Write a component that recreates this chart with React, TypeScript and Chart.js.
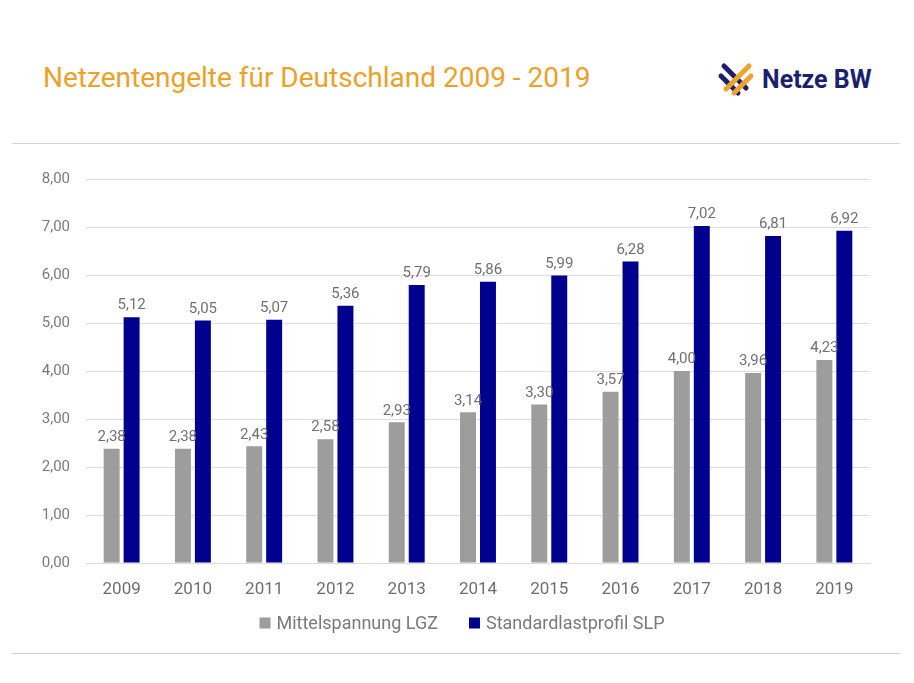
import { useEffect, useRef } from 'react'
import { Chart, registerables } from 'chart.js'
import type { Plugin } from 'chart.js'

Chart.register(...registerables)

const years = ['2009', '2010', '2011', '2012', '2013', '2014', '2015', '2016', '2017', '2018', '2019']
const mittelspannungLGZ = [2.38, 2.38, 2.43, 2.58, 2.93, 3.14, 3.30, 3.57, 4.00, 3.96, 4.23]
const standardlastprofilSLP = [5.12, 5.05, 5.07, 5.36, 5.79, 5.86, 5.99, 6.28, 7.02, 6.81, 6.92]

const GREY = '#9d9d9d'
const NAVY = '#00008f'
const FONT = 'Roboto, sans-serif'

const fmt = (v: number) => v.toFixed(2).replace('.', ',')

// value labels above each bar
const barLabels: Plugin<'bar'> = {
  id: 'barLabels',
  afterDatasetsDraw(chart) {
    const { ctx } = chart
    ctx.save()
    ctx.font = `15px ${FONT}`
    ctx.fillStyle = '#707070'
    ctx.textAlign = 'center'
    ctx.textBaseline = 'bottom'
    chart.data.datasets.forEach((ds, i) => {
      const meta = chart.getDatasetMeta(i)
      meta.data.forEach((bar, j) => {
        ctx.fillText(fmt(ds.data[j] as number), bar.x, bar.y - 4)
      })
    })
    ctx.restore()
  },
}

// bottom legend with wider item spacing than the built-in one allows
const wideLegend: Plugin<'bar'> = {
  id: 'wideLegend',
  afterDraw(chart) {
    const { ctx } = chart
    const box = 11, gap = 6, itemGap = 31
    ctx.save()
    ctx.font = `18px ${FONT}`
    ctx.textBaseline = 'middle'
    const items = chart.data.datasets.map((ds) => ({
      text: String(ds.label),
      color: String(ds.backgroundColor),
      w: box + gap + ctx.measureText(String(ds.label)).width,
    }))
    const total = items.reduce((s, it) => s + it.w, 0) + itemGap * (items.length - 1)
    let x = chart.width / 2 + 5 - total / 2
    const y = chart.chartArea.bottom + 60
    items.forEach((it) => {
      ctx.fillStyle = it.color
      ctx.fillRect(x, y - box / 2, box, box)
      ctx.fillStyle = '#7a7a7a'
      ctx.fillText(it.text, x + box + gap, y + 1)
      x += it.w + itemGap
    })
    ctx.restore()
  },
}

function Logo() {
  return (
    <div style={{ position: 'absolute', left: 716, top: 59, height: 40, display: 'flex', alignItems: 'center' }}>
      <svg width="40" height="40" viewBox="0 0 40 40">
        <g strokeWidth="5" strokeLinecap="round">
          <line x1="8" y1="7" x2="30" y2="29" stroke="#1c1f6e" />
          <line x1="5" y1="17" x2="22" y2="34" stroke="#1c1f6e" />
          <line x1="33" y1="7" x2="10" y2="30" stroke="#f0a32c" />
          <line x1="35" y1="17" x2="18" y2="34" stroke="#f0a32c" />
        </g>
      </svg>
      <span style={{ marginLeft: 6, fontFamily: FONT, fontWeight: 700, fontSize: 25, color: '#1c1f6e' }}>
        Netze BW
      </span>
    </div>
  )
}

export default function App() {
  const canvasRef = useRef<HTMLCanvasElement>(null)
  const chartRef = useRef<Chart | null>(null)

  useEffect(() => {
    if (!canvasRef.current) return
    chartRef.current?.destroy()

    chartRef.current = new Chart(canvasRef.current, {
      type: 'bar',
      data: {
        labels: years,
        datasets: [
          { label: 'Mittelspannung LGZ', data: mittelspannungLGZ, backgroundColor: GREY },
          { label: 'Standardlastprofil SLP', data: standardlastprofilSLP, backgroundColor: NAVY },
        ],
      },
      plugins: [barLabels, wideLegend],
      options: {
        animation: false,
        responsive: true,
        maintainAspectRatio: false,
        datasets: { bar: { categoryPercentage: 0.56, barPercentage: 0.8 } },
        layout: { padding: { top: 29, right: 44, left: 0, bottom: 43 } },
        plugins: {
          tooltip: { enabled: false },
          legend: { display: false },
        },
        scales: {
          x: {
            grid: { display: false },
            border: { color: '#d9d9d9' },
            ticks: { color: '#6e6e6e', font: { size: 17, family: FONT }, padding: 9 },
            afterFit: (s) => { s.height = 44 },
          },
          y: {
            min: 0,
            max: 8,
            afterFit: (s) => { s.width = 86 },
            grid: { color: '#dedede', drawTicks: false },
            border: { display: false },
            ticks: {
              stepSize: 1,
              color: '#7a7a7a',
              font: { size: 15, family: FONT },
              padding: 16,
              callback: (v) => fmt(Number(v)),
            },
          },
        },
      },
    })

    return () => { chartRef.current?.destroy() }
  }, [])

  return (
    <div style={{ position: 'absolute', left: 0, top: 0, width: 914, height: 683, background: '#fff', overflow: 'hidden' }}>
      <div style={{ position: 'absolute', left: 43, top: 62, fontFamily: FONT, fontSize: 28, lineHeight: '32px', color: '#eaa22a' }}>
        Netzentengelte für Deutschland 2009 - 2019
      </div>
      <Logo />
      <div style={{ position: 'absolute', left: 12, top: 143, width: 888, height: 1, background: '#d4d4d4' }} />
      <div style={{ position: 'absolute', left: 0, top: 150, width: 914, height: 500 }}>
        <canvas ref={canvasRef} />
      </div>
      <div style={{ position: 'absolute', left: 12, top: 653, width: 888, height: 1, background: '#d4d4d4' }} />
    </div>
  )
}
